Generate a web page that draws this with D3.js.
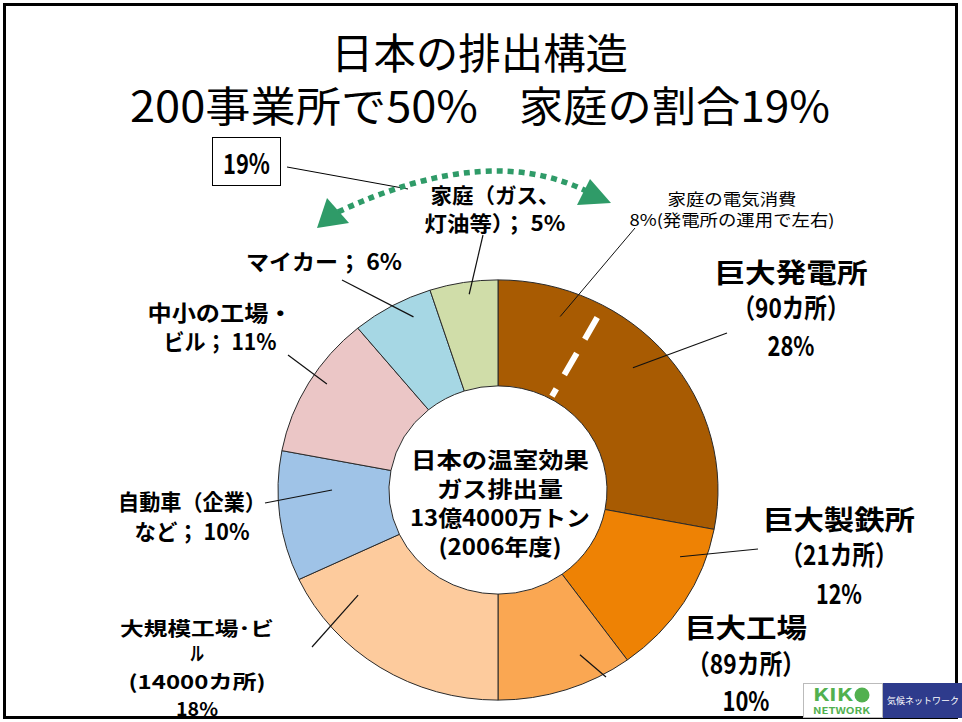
<!DOCTYPE html>
<html>
<head>
<meta charset="utf-8">
<script src="https://cdn.jsdelivr.net/npm/d3@7"></script>
<style>
  body { margin: 0; background: #fff; }
  svg text { font-family: "Noto Sans CJK JP", sans-serif; }
</style>
</head>
<body>
<svg id="chart" width="962" height="722"></svg>
<script>
// data
const sectors = ["巨大発電所", "巨大製鉄所", "巨大工場", "大規模工場・ビル", "自動車（企業）など", "中小の工場・ビル", "マイカー", "家庭（ガス、灯油等）"];
const shares = [28, 12, 10, 18, 10, 11, 6, 5];
const sliceColors = ["#A85B02", "#EE8204", "#FAA752", "#FDCB9D", "#9FC3E7", "#EBC6C6", "#A6D7E4", "#D0DDA9"];
const sectorLabels = [
    ["巨大発電所", "（90カ所）", "28%"],
    ["巨大製鉄所", "（21カ所）", "12%"],
    ["巨大工場", "（89カ所）", "10%"],
    ["大規模工場･ビ", "ル", "(14000カ所)", "18%"],
    ["自動車（企業）", "など； 10%"],
    ["中小の工場・", "ビル； 11%"],
    ["マイカー； 6%"],
    ["家庭（ガス、", "灯油等）； 5%"]
];
const householdElecShare = 8;
const householdElecLabel = ["家庭の電気消費", "8%(発電所の運用で左右)"];
const householdTotal = "19%";
const centerLines = ["日本の温室効果", "ガス排出量", "13億4000万トン", "(2006年度)"];
const titleParts = ["日本の排出構造", "200事業所で50%", "家庭の割合19%"];

// layout: label position per sector (cx, baselines, widths, font size, leader)
const labelLayout = [
    { cx: 791, ys: [283, 318, 356], ws: [153, 117, 47], fs: 27, lead: [46.5, 186], to: [727, 333] },
    { cx: 839, ys: [530, 565, 604], ws: [152, 117, 46], fs: 27, lead: [111, 195], to: [758, 549] },
    { cx: 746, ys: [638, 674, 711], ws: [122, 118, 47], fs: 27, lead: [154.6, 191], to: [606, 677] },
    { cx: 197, ys: [636, 661, 689, 716], ws: [154, 14, 137, 42], fs: 19, lead: [231.8, 178], to: [312, 647] },
    { cx: 192, ys: [510, 540], ws: [148, 115], fs: 22, lead: [270, 166], to: [265, 503] },
    { cx: 220, ys: [321, 350], ws: [145, 113], fs: 22, lead: [303, 204], to: [288, 355] },
    { cx: 324, ys: [270], ws: [156], fs: 22, lead: [335, 200], to: [342, 280] },
    { cx: 495, ys: [203, 231], ws: [129, 141], fs: 21, lead: [352, 207], to: [483, 235] }
];

const width = 962;
const height = 722;
const cx = 498, cy = 490;
const outerR = 220, innerR = 109, squash = 0.955;

const svg = d3.select("#chart");

// screen position of a point on the (slightly squashed) donut
function toScreen(angleDeg, r) {
    const p = d3.pointRadial(angleDeg * Math.PI / 180, r);
    return [cx + p[0], cy + p[1] * squash];
}

function drawFrame() {
    svg.append("rect")
        .attr("x", 0).attr("y", 0)
        .attr("width", width).attr("height", height)
        .attr("fill", "#fff");
    svg.append("rect")
        .attr("x", 4.5).attr("y", 4.5)
        .attr("width", 952).attr("height", 713)
        .attr("fill", "none")
        .attr("stroke", "#000")
        .attr("stroke-width", 3);
}

function drawTitle() {
    // x is the left edge, w the drawn width of each piece
    const spec = [{ x: 331, y: 69, w: 297 }, { x: 130, y: 122, w: 348 }, { x: 519, y: 122, w: 311 }];
    titleParts.forEach((t, i) => {
        svg.append("text")
            .attr("x", spec[i].x)
            .attr("y", spec[i].y)
            .attr("font-size", 42)
            .attr("textLength", spec[i].w)
            .attr("lengthAdjust", "spacingAndGlyphs")
            .text(t);
    });
}

function drawDonut() {
    const pie = d3.pie().sort(null).value(d => d);
    const arc = d3.arc().innerRadius(innerR).outerRadius(outerR);
    const g = svg.append("g")
        .attr("transform", `translate(${cx},${cy}) scale(1,${squash})`);

    g.selectAll("path")
        .data(pie(shares))
        .enter()
        .append("path")
        .attr("d", arc)
        .attr("fill", (d, i) => sliceColors[i])
        .attr("stroke", "#2a2a2a")
        .attr("stroke-width", 1)
        .attr("vector-effect", "non-scaling-stroke");

    // white dashed split: household electricity share inside the power plants slice
    const a = householdElecShare / 100 * 360;
    const p0 = toScreen(a, 206), p1 = toScreen(a, 112);
    svg.append("line")
        .attr("x1", p0[0]).attr("y1", p0[1])
        .attr("x2", p1[0]).attr("y2", p1[1])
        .attr("stroke", "#fff")
        .attr("stroke-width", 6)
        .attr("stroke-dasharray", "25 16");

    centerLines.forEach((t, i) => {
        const ys = [468, 497, 526, 555];
        const ws = [178, 126, 180, 123];
        svg.append("text")
            .attr("x", 500)
            .attr("y", ys[i])
            .attr("text-anchor", "middle")
            .attr("font-size", 22)
            .attr("font-weight", "bold")
            .attr("textLength", ws[i])
            .attr("lengthAdjust", "spacingAndGlyphs")
            .text(t);
    });
}

function drawLabels() {
    sectorLabels.forEach((lines, i) => {
        const L = labelLayout[i];
        const inner = toScreen(L.lead[0], L.lead[1]);
        svg.append("line")
            .attr("x1", L.to[0]).attr("y1", L.to[1])
            .attr("x2", inner[0]).attr("y2", inner[1])
            .attr("stroke", "#111")
            .attr("stroke-width", 1.2);
        lines.forEach((t, j) => {
            svg.append("text")
                .attr("x", L.cx)
                .attr("y", L.ys[j])
                .attr("text-anchor", "middle")
                .attr("font-size", L.fs)
                .attr("font-weight", "bold")
                .attr("textLength", L.ws[j])
                .attr("lengthAdjust", "spacingAndGlyphs")
                .text(t);
        });
    });

    // household electricity note
    const inner = toScreen(18.9, 192);
    svg.append("line")
        .attr("x1", 635).attr("y1", 228)
        .attr("x2", inner[0]).attr("y2", inner[1])
        .attr("stroke", "#111")
        .attr("stroke-width", 1);
    householdElecLabel.forEach((t, j) => {
        svg.append("text")
            .attr("x", 732)
            .attr("y", [205, 226][j])
            .attr("text-anchor", "middle")
            .attr("font-size", 16)
            .attr("textLength", [129, 205][j])
            .attr("lengthAdjust", "spacingAndGlyphs")
            .text(t);
    });
}

function drawHouseholdBracket() {
    // boxed total
    svg.append("rect")
        .attr("x", 212.5).attr("y", 137.5)
        .attr("width", 68).attr("height", 48)
        .attr("fill", "#fff")
        .attr("stroke", "#000")
        .attr("stroke-width", 1);
    svg.append("text")
        .attr("x", 246.5).attr("y", 174)
        .attr("text-anchor", "middle")
        .attr("font-size", 28)
        .attr("font-weight", "bold")
        .attr("textLength", 47)
        .attr("lengthAdjust", "spacingAndGlyphs")
        .text(householdTotal);
    svg.append("line")
        .attr("x1", 287).attr("y1", 167)
        .attr("x2", 408).attr("y2", 189)
        .attr("stroke", "#000")
        .attr("stroke-width", 1);

    // green dotted double arrow
    const green = "#2F9B68";
    const path = d3.path();
    path.moveTo(338, 212);
    path.quadraticCurveTo(490, 141, 590, 193);
    svg.append("path")
        .attr("d", path.toString())
        .attr("fill", "none")
        .attr("stroke", green)
        .attr("stroke-width", 5.5)
        .attr("stroke-dasharray", "6 5");
    svg.append("path")
        .attr("d", "M317,228 L327,198 L349,223 Z")
        .attr("fill", green);
    svg.append("path")
        .attr("d", "M611,203 L590,179 L577,205 Z")
        .attr("fill", green);
}

function drawLogo() {
    const g = svg.append("g");
    g.append("rect")
        .attr("x", 803.5).attr("y", 683.5)
        .attr("width", 79).attr("height", 34)
        .attr("fill", "#fff")
        .attr("stroke", "#bbb");
    g.append("rect")
        .attr("x", 883).attr("y", 683)
        .attr("width", 79).attr("height", 35)
        .attr("fill", "#2E3B8C");
    g.append("text")
        .attr("x", 813).attr("y", 701)
        .attr("font-size", 17)
        .attr("font-weight", "bold")
        .attr("fill", "#52B04F")
        .attr("textLength", 40)
        .attr("lengthAdjust", "spacingAndGlyphs")
        .text("KIK");
    g.append("circle")
        .attr("cx", 862).attr("cy", 695)
        .attr("r", 7.5)
        .attr("fill", "#52B04F");
    g.append("text")
        .attr("x", 813).attr("y", 714)
        .attr("font-size", 9)
        .attr("font-weight", "bold")
        .attr("fill", "#52B04F")
        .attr("textLength", 57)
        .attr("lengthAdjust", "spacingAndGlyphs")
        .text("NETWORK");
    g.append("text")
        .attr("x", 887).attr("y", 704)
        .attr("font-size", 9)
        .attr("fill", "#fff")
        .attr("textLength", 72)
        .attr("lengthAdjust", "spacingAndGlyphs")
        .text("気候ネットワーク");
}

drawFrame();
drawTitle();
drawDonut();
drawLabels();
drawHouseholdBracket();
drawLogo();
</script>
</body>
</html>
